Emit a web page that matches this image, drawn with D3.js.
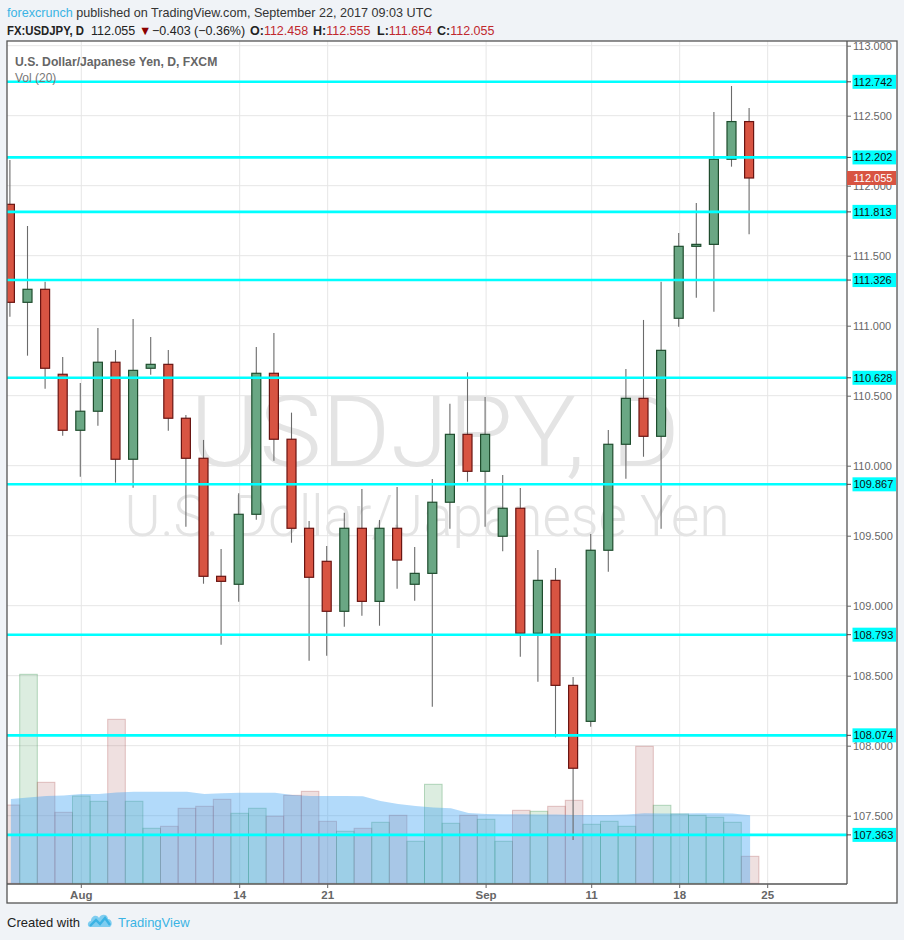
<!DOCTYPE html>
<html><head><meta charset="utf-8">
<script src="https://cdn.jsdelivr.net/npm/d3@7"></script>
<style>
html,body{margin:0;padding:0;background:#f0f3f7;}
svg{display:block;}
</style></head><body>
<svg id="c" width="904" height="940"></svg>
<script>
const dates = ["2017-07-26","2017-07-27","2017-07-28","2017-07-31","2017-08-01","2017-08-02","2017-08-03","2017-08-04","2017-08-07","2017-08-08","2017-08-09","2017-08-10","2017-08-11","2017-08-14","2017-08-15","2017-08-16","2017-08-17","2017-08-18","2017-08-21","2017-08-22","2017-08-23","2017-08-24","2017-08-25","2017-08-28","2017-08-29","2017-08-30","2017-08-31","2017-09-01","2017-09-04","2017-09-05","2017-09-06","2017-09-07","2017-09-08","2017-09-11","2017-09-12","2017-09-13","2017-09-14","2017-09-15","2017-09-18","2017-09-19","2017-09-20","2017-09-21","2017-09-22"];
const open  = [111.867,111.167,111.260,110.653,110.253,110.389,110.739,110.046,110.696,110.724,110.339,110.053,109.210,109.153,109.653,110.660,110.189,109.553,109.317,108.960,109.553,109.031,109.553,109.153,109.231,109.739,110.224,109.960,109.496,109.696,108.803,109.181,108.431,108.174,109.396,110.153,110.481,110.210,111.053,111.567,111.581,112.189,112.458];
const high  = [112.184,111.712,111.314,110.776,110.591,110.984,110.826,111.048,110.919,110.826,110.362,110.184,109.405,109.803,110.848,110.948,110.379,109.605,109.426,109.664,109.834,109.612,109.848,109.419,109.905,110.443,110.667,110.491,109.934,109.841,109.398,109.269,108.491,109.512,110.255,110.691,111.041,111.314,111.662,111.876,112.526,112.712,112.555];
const low   = [111.064,110.786,110.550,110.214,109.921,110.286,109.879,109.843,110.650,110.250,109.564,109.157,108.721,109.029,109.614,110.036,109.450,108.607,108.643,108.850,108.929,108.857,109.121,109.036,108.279,109.550,109.886,109.564,109.389,108.636,108.457,108.060,107.326,108.136,109.243,109.907,110.064,109.550,110.993,111.200,111.100,112.136,111.654];
const close = [111.167,111.260,110.696,110.253,110.389,110.739,110.046,110.681,110.724,110.339,110.053,109.210,109.174,109.653,110.660,110.189,109.553,109.203,108.960,109.553,109.031,109.553,109.326,109.231,109.739,110.224,109.960,110.224,109.696,108.803,109.181,108.431,107.839,109.396,110.153,110.481,110.210,110.824,111.567,111.581,112.189,112.458,112.055];
const volume = [7830,20900,10100,7100,8730,8200,16400,8200,5500,5700,7500,7700,8400,7000,7500,6700,8800,9200,6200,5200,5500,6100,6800,4200,9900,6000,6800,6400,4200,7300,7200,7700,8300,5900,6200,5700,13700,7800,6930,6800,6600,6100,2700];
const volumeMA20 = [8430,8580,8730,8780,8930,8930,9080,9160,9160,9160,9160,8930,9000,9060,9060,9060,8830,8730,8730,8730,8700,8230,7930,7730,7580,7500,7030,6930,6900,6900,6880,6880,6830,6830,6830,6880,7000,6980,6980,7000,7000,6980,6800];
const levels = [112.742,112.202,111.813,111.326,110.628,109.867,108.793,108.074,107.363];
const priceTicks = [113.0,112.5,112.0,111.5,111.0,110.5,110.0,109.5,109.0,108.5,108.0,107.5];
const xTickDates = ["2017-08-01","2017-08-14","2017-08-21","2017-09-01","2017-09-11","2017-09-18","2017-09-25"];
const xTickLabels = ["Aug","14","21","Sep","11","18","25"];
const futureDates = ["2017-09-25","2017-09-26","2017-09-27","2017-09-28","2017-09-29"];
const lastPrice = 112.055;

const axisDates = dates.concat(futureDates);
const svg = d3.select("#c");
const FONT = "'Liberation Sans', Arial, sans-serif";
const L = 7, T = 41, R = 897, B = 903, PR = 847, PB = 884;

svg.append("rect").attr("width",904).attr("height",940).attr("fill","#f0f3f7");
svg.append("rect").attr("x",L).attr("y",T).attr("width",R-L).attr("height",B-T).attr("fill","#fff");

const x = d3.scaleLinear().domain([4, 43]).range([81.3, 767.7]);
const y = d3.scaleLinear().domain([107.5, 113.0]).range([815.7, 45.7]);
const yv = d3.scaleLinear().domain([0, 10000]).range([883.3, 783.3]);

svg.append("defs").append("clipPath").attr("id","plot")
  .append("rect").attr("x",L).attr("y",T).attr("width",PR-L).attr("height",PB-T);

const plot = svg.append("g").attr("clip-path","url(#plot)");

plot.selectAll(".hg").data(priceTicks).join("line")
  .attr("x1",L).attr("x2",PR).attr("y1",d=>y(d)).attr("y2",d=>y(d))
  .attr("stroke","#e6e6e6").attr("stroke-width",1);
plot.selectAll(".vg").data(xTickDates).join("line")
  .attr("x1",d=>x(axisDates.indexOf(d))).attr("x2",d=>x(axisDates.indexOf(d)))
  .attr("y1",T).attr("y2",PB).attr("stroke","#e6e6e6").attr("stroke-width",1);

plot.append("text").text("USDJPY, D").attr("x",435).attr("y",466)
  .attr("text-anchor","middle").attr("font-family","Roboto, 'Liberation Sans', sans-serif")
  .attr("font-weight",300).attr("font-size",98).attr("fill","#e4e4e4")
  .attr("textLength",490).attr("lengthAdjust","spacingAndGlyphs");
plot.append("text").text("U.S. Dollar/Japanese Yen").attr("x",427).attr("y",536)
  .attr("text-anchor","middle").attr("font-family","Roboto, 'Liberation Sans', sans-serif")
  .attr("font-weight",300).attr("font-size",58).attr("fill","#e4e4e4")
  .attr("textLength",605).attr("lengthAdjust","spacingAndGlyphs");

const idx = d3.range(dates.length);
const isUp = i => close[i] >= open[i];
const bw = x(5) - x(4);

plot.selectAll(".vb").data(idx).join("rect")
  .attr("x",i=>x(i)-bw/2).attr("width",bw)
  .attr("y",i=>yv(volume[i])).attr("height",i=>yv(0)-yv(volume[i]))
  .attr("fill",i=>isUp(i)?"rgba(80,165,100,0.2)":"rgba(175,100,100,0.2)")
  .attr("stroke",i=>isUp(i)?"rgba(60,150,80,0.35)":"rgba(170,70,70,0.3)")
  .attr("stroke-width",1);

const area = d3.area().x((d,i)=>x(i)).y0(yv(0)).y1(d=>yv(d));
plot.append("path").datum(volumeMA20).attr("d",area)
  .attr("fill","rgba(62,162,242,0.4)");

const cg = plot.append("g");
cg.selectAll(".wk").data(idx).join("line")
  .attr("x1",i=>x(i)-1).attr("x2",i=>x(i)-1)
  .attr("y1",i=>y(high[i])).attr("y2",i=>y(low[i]))
  .attr("stroke","#6b6b6b").attr("stroke-width",1.1);
cg.selectAll(".bd").data(idx).join("rect")
  .attr("x",i=>x(i)-5.5).attr("width",9)
  .attr("y",i=>y(Math.max(open[i],close[i])))
  .attr("height",i=>Math.max(1,Math.abs(y(open[i])-y(close[i]))))
  .attr("fill",i=>isUp(i)?"#6aa784":"#d85442")
  .attr("stroke",i=>isUp(i)?"#1f4d2e":"#6a1512").attr("stroke-width",1.2);

svg.append("text").text("U.S. Dollar/Japanese Yen, D, FXCM").attr("x",15).attr("y",65.5)
  .attr("font-family",FONT).attr("font-size",12.2).attr("font-weight","bold").attr("fill","#666");
svg.append("text").text("Vol (20)").attr("x",15).attr("y",82)
  .attr("font-family",FONT).attr("font-size",12).attr("fill","#777");

plot.selectAll(".lv").data(levels).join("line")
  .attr("x1",L).attr("x2",PR).attr("y1",d=>y(d)).attr("y2",d=>y(d))
  .attr("stroke","#00ffff").attr("stroke-width",2.6);

svg.append("line").attr("x1",PR).attr("x2",PR).attr("y1",T).attr("y2",PB).attr("stroke","#555").attr("stroke-width",1.3);
svg.append("line").attr("x1",L).attr("x2",PR).attr("y1",PB).attr("y2",PB).attr("stroke","#555").attr("stroke-width",1.3);
svg.append("rect").attr("x",L).attr("y",T).attr("width",R-L).attr("height",B-T)
  .attr("fill","none").attr("stroke","#555").attr("stroke-width",1.3);

// price axis (the 112.000 label sits under the last-price tag, as in the reference)
const yAxis = d3.axisRight(y).tickValues(priceTicks).tickFormat(d3.format(".3f")).tickSize(4).tickPadding(2);
const ya = svg.append("g").attr("transform",`translate(${PR},0)`).call(yAxis);
ya.select(".domain").remove();
ya.selectAll("line").attr("stroke","#666");
ya.selectAll("text").attr("font-family",FONT).attr("font-size",11).attr("fill","#666");

const lg = svg.append("g");
levels.forEach(v=>{
  lg.append("line").attr("x1",PR).attr("x2",PR+4).attr("y1",y(v)).attr("y2",y(v)).attr("stroke","#444");
  lg.append("rect").attr("x",852.5).attr("y",y(v)-7).attr("width",43.5).attr("height",14).attr("fill","#00ffff");
  lg.append("text").text(d3.format(".3f")(v)).attr("x",853.5).attr("y",y(v)+4)
    .attr("font-family",FONT).attr("font-size",11).attr("fill","#111");
});
lg.append("rect").attr("x",PR).attr("y",y(lastPrice)-7).attr("width",49).attr("height",14).attr("fill","#d85442");
lg.append("text").text(d3.format(".3f")(lastPrice)).attr("x",853.5).attr("y",y(lastPrice)+4)
  .attr("font-family",FONT).attr("font-size",11).attr("fill","#fff");

const xa = svg.append("g");
xTickDates.forEach((d,k)=>{
  const xi = x(axisDates.indexOf(d));
  xa.append("line").attr("x1",xi).attr("x2",xi).attr("y1",PB).attr("y2",PB+4).attr("stroke","#666");
  xa.append("text").text(xTickLabels[k]).attr("x",xi).attr("y",899)
    .attr("text-anchor","middle").attr("font-family",FONT).attr("font-size",11.5)
    .attr("font-weight","bold").attr("fill","#666");
});

// header
const h1 = svg.append("text").attr("x",7).attr("y",17).attr("font-family",FONT).attr("font-size",12.6).attr("fill","#333");
h1.append("tspan").text("forexcrunch").attr("fill","#3bb3e4");
h1.append("tspan").text(" published on TradingView.com, September 22, 2017 09:03 UTC");
const h2 = svg.append("text").attr("y",35).attr("font-family",FONT).attr("font-size",12.5).attr("fill","#222");
h2.append("tspan").attr("x",7).text("FX:USDJPY, D").attr("font-weight","bold").attr("textLength",77).attr("lengthAdjust","spacingAndGlyphs");
h2.append("tspan").attr("x",91).text("112.055");
h2.append("tspan").attr("x",139).text("▼").attr("fill","#8b0000");
h2.append("tspan").attr("x",152).text("−0.403 (−0.36%)");
const red = "#c0282d";
const ohlcX = [250,313,377,437];
[["O:","112.458"],["H:","112.555"],["L:","111.654"],["C:","112.055"]].forEach((p,k)=>{
  h2.append("tspan").attr("x",ohlcX[k]).text(p[0]).attr("font-weight","bold");
  h2.append("tspan").text(p[1]).attr("fill",red);
});

svg.append("text").text("Created with").attr("x",7).attr("y",927)
  .attr("font-family",FONT).attr("font-size",13).attr("fill","#222");
const logo = svg.append("g").attr("transform","translate(88,912)");
logo.append("path").attr("d","M2,15 C-1,15 -1,9 3,9 C3,4 9,2 11,6 C13,1 20,2 20,7 C24,7 25,13 22,15 Z").attr("fill","#7fcdf0");
logo.append("path").attr("d","M2,14 L8,8 L12,12 L17,6 L22,13").attr("fill","none").attr("stroke","#3bb3e4").attr("stroke-width",2.4);
svg.append("text").text("TradingView").attr("x",118).attr("y",927)
  .attr("font-family",FONT).attr("font-size",13).attr("fill","#3bb3e4");
</script>
</body></html>
